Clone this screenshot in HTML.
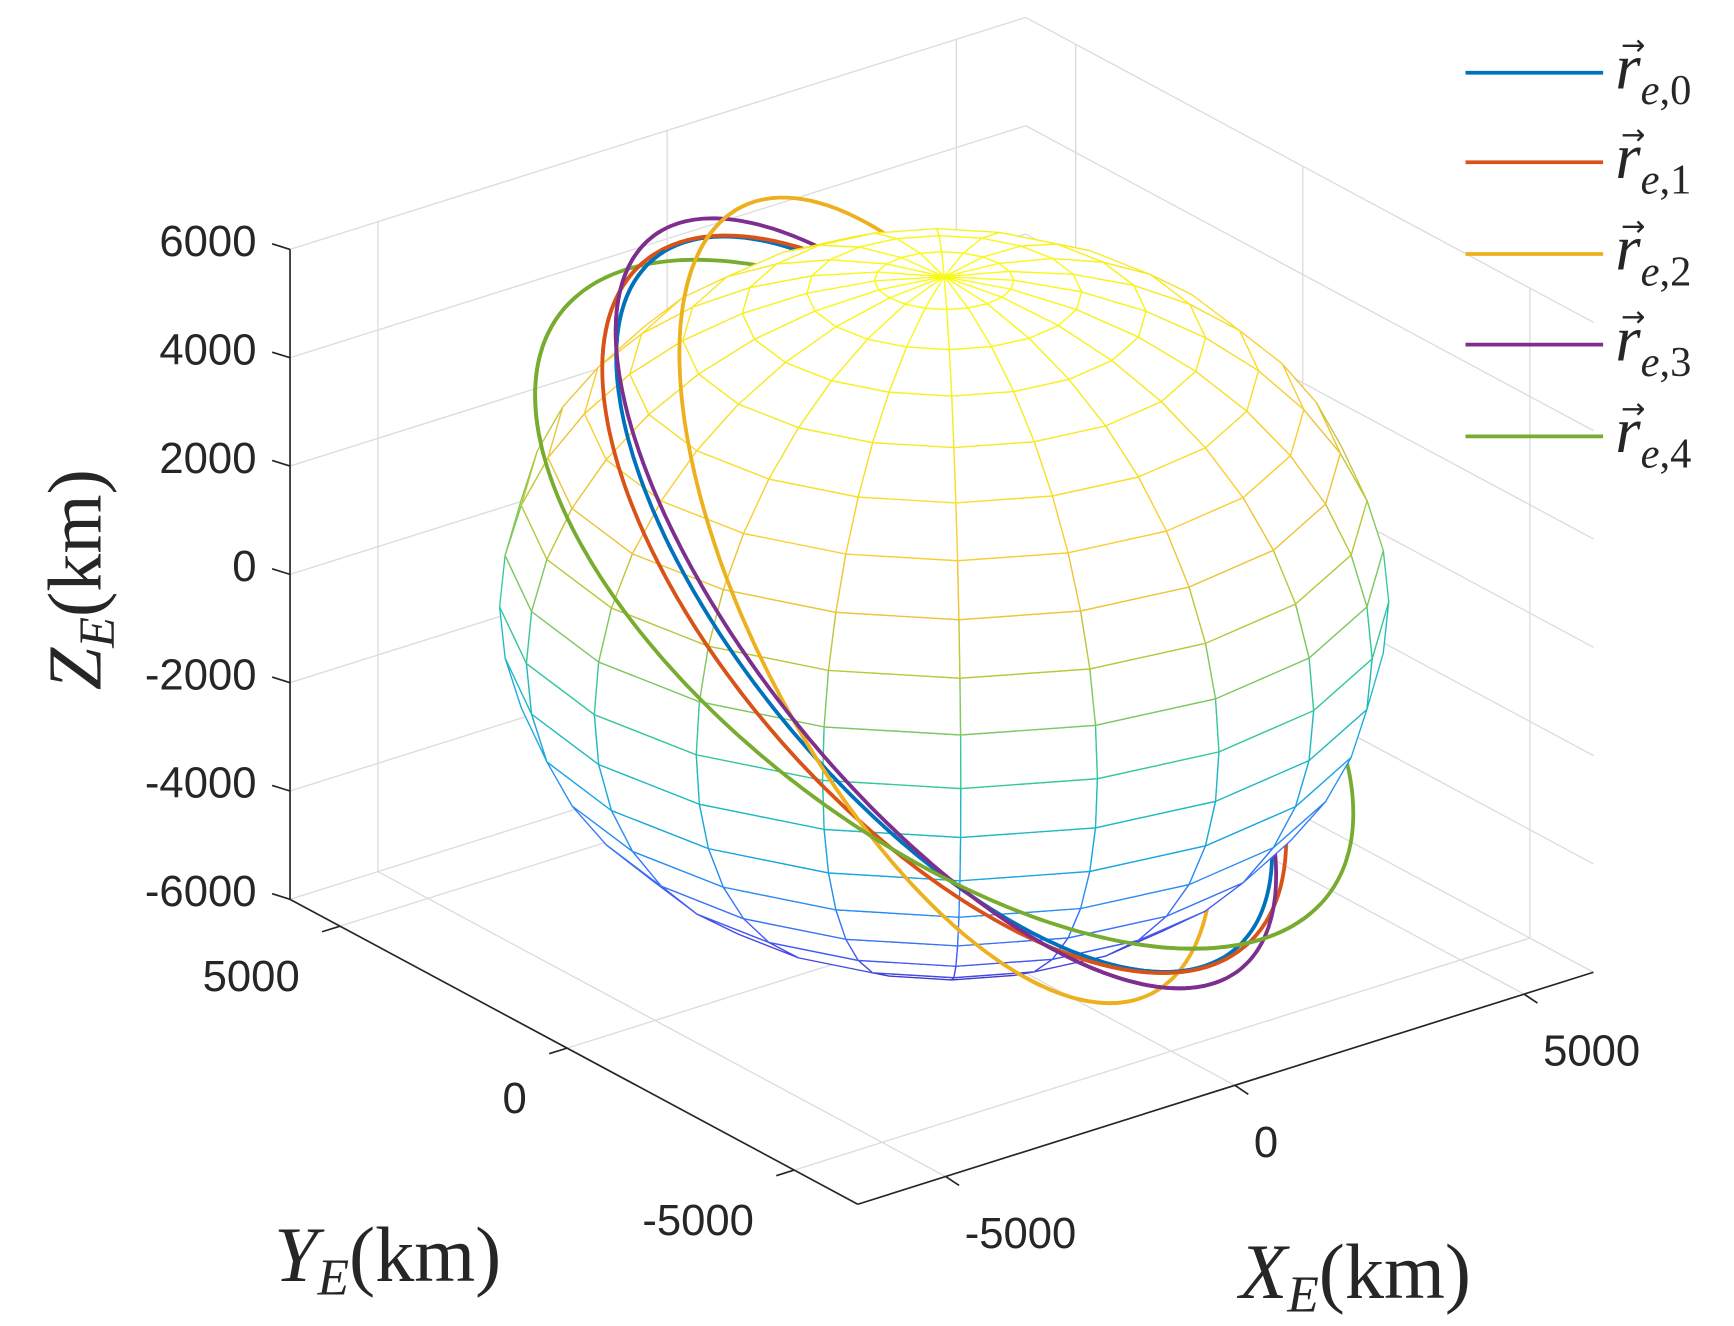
<!DOCTYPE html>
<html><head><meta charset="utf-8"><style>
html,body{margin:0;padding:0;background:#fff}
svg{display:block}
</style></head><body>
<svg id="chart" width="1734" height="1326" viewBox="0 0 1550 1185" preserveAspectRatio="none" xmlns="http://www.w3.org/2000/svg">
<rect x="0" y="0" width="1550" height="1185" fill="#fff"/>
<g id="grid"></g>
<g id="axes"></g>
<g id="orbitsBack"></g>
<g id="sphere"></g>
<g id="orbitsFront"></g>
<g id="ticklabels" font-family="Liberation Sans, sans-serif" font-size="39" fill="#262626"></g>
<text transform="translate(90,518) rotate(-90)" text-anchor="middle" font-family="Liberation Serif, serif" font-size="68" fill="#262626"><tspan font-style="italic">Z</tspan><tspan font-style="italic" font-size="45" dy="12">E</tspan><tspan dy="-12">(km)</tspan></text>
<text x="245" y="1145" font-family="Liberation Serif, serif" font-size="70" fill="#262626"><tspan font-style="italic">Y</tspan><tspan font-style="italic" font-size="46" dy="12">E</tspan><tspan dy="-12">(km)</tspan></text>
<text x="1108" y="1160" font-family="Liberation Serif, serif" font-size="70" fill="#262626"><tspan font-style="italic">X</tspan><tspan font-style="italic" font-size="46" dy="12">E</tspan><tspan dy="-12">(km)</tspan></text>
<g id="legend"></g>
</svg>
<script>
// ---- data ----
const zTicks = [-6000, -4000, -2000, 0, 2000, 4000, 6000];
const xTicks = [-5000, 0, 5000];
const yTicks = [-5000, 0, 5000];
const xLim = [-6520, 6200];
const yLim = [-6400, 6100];
const zLim = [-6000, 6000];
const earthRadius = 6050;
const seriesNames = ['0', '1', '2', '3', '4'];
const seriesColors = ['#0072BD', '#D95319', '#EDB120', '#7E2F8E', '#77AC30'];
// orbit parameters (semi-major axis km, eccentricity, plane screen angle deg, plane tilt deg, perigee argument deg)
const orbitSemiMajor = [6800, 6840, 6900, 7100, 7000];
const orbitEcc = [0.0, 0.0, 0.02, 0.01, 0.0];
const orbitPlaneAngle = [232, 231, 244, 233, 220];
const orbitTilt = [-25, -27, -23, -23, -30];
const orbitPerigee = [0, 0, 110, 90, 0];

const NS = 'http://www.w3.org/2000/svg';
const C = [844, 540];
function proj(X, Y, Z) {
  return [C[0] + (51.7 * X - 40.6 * Y) / 1000, C[1] - (16.3 * X + 21.8 * Y + 48.4 * Z) / 1000];
}
const r1 = [51.7, -40.6, 0], r2 = [16.3, 21.8, 48.4];
let V = [r1[1]*r2[2]-r1[2]*r2[1], r1[2]*r2[0]-r1[0]*r2[2], r1[0]*r2[1]-r1[1]*r2[0]];
{ const l = Math.hypot(...V); V = V.map(v => v / l); }
const dot = (a, b) => a[0]*b[0] + a[1]*b[1] + a[2]*b[2];
const cross = (a, b) => [a[1]*b[2]-a[2]*b[1], a[2]*b[0]-a[0]*b[2], a[0]*b[1]-a[1]*b[0]];
const norm = a => { const l = Math.hypot(...a); return a.map(v => v / l); };

function line(g, p, q, stroke, w, name) {
  const l = document.createElementNS(NS, 'line');
  l.setAttribute('x1', p[0]); l.setAttribute('y1', p[1]);
  l.setAttribute('x2', q[0]); l.setAttribute('y2', q[1]);
  l.setAttribute('stroke', stroke); l.setAttribute('stroke-width', w);
  
  
  g.appendChild(l);
}
// ---- grid ----
const grid = document.getElementById('grid');
const gc = '#dcdcdc';
zTicks.forEach(z => {
  line(grid, proj(xLim[0], yLim[1], z), proj(xLim[1], yLim[1], z), gc, 1.2, 'z-gridline');
  line(grid, proj(xLim[1], yLim[1], z), proj(xLim[1], yLim[0], z), gc, 1.2, 'z-gridline');
});
xTicks.forEach(x => {
  line(grid, proj(x, yLim[1], zLim[0]), proj(x, yLim[1], zLim[1]), gc, 1.2, 'x-gridline');
  line(grid, proj(x, yLim[0], zLim[0]), proj(x, yLim[1], zLim[0]), gc, 1.2, 'x-gridline');
});
yTicks.forEach(y => {
  line(grid, proj(xLim[1], y, zLim[0]), proj(xLim[1], y, zLim[1]), gc, 1.2, 'y-gridline');
  line(grid, proj(xLim[0], y, zLim[0]), proj(xLim[1], y, zLim[0]), gc, 1.2, 'y-gridline');
});
// ---- axes ----
const axes = document.getElementById('axes');
const ac = '#262626';
line(axes, proj(xLim[0], yLim[1], zLim[0]), proj(xLim[0], yLim[1], zLim[1]), ac, 1.5, 'z-axis-line');
line(axes, proj(xLim[0], yLim[0], zLim[0]), proj(xLim[0], yLim[1], zLim[0]), ac, 1.5, 'y-axis-line');
line(axes, proj(xLim[0], yLim[0], zLim[0]), proj(xLim[1], yLim[0], zLim[0]), ac, 1.5, 'x-axis-line');
const tl = document.getElementById('ticklabels');
function label(txt, x, y, anchor, name) {
  const t = document.createElementNS(NS, 'text');
  t.setAttribute('x', x); t.setAttribute('y', y);
  t.setAttribute('text-anchor', anchor);
  t.textContent = txt;
  
  
  tl.appendChild(t);
}
zTicks.forEach(z => {
  const p = proj(xLim[0], yLim[1], z);
  line(axes, p, [p[0] - 16, p[1] - 5], ac, 1.5, 'z-tick');
  label(String(z), p[0] - 30, p[1] + 6, 'end', 'z-tick-label');
});
yTicks.forEach(y => {
  const p = proj(xLim[0], y, zLim[0]);
  line(axes, p, [p[0] - 16, p[1] + 5], ac, 1.5, 'y-tick');
  label(String(y), p[0] - 36, p[1] + 58, 'end', 'y-tick-label');
});
xTicks.forEach(x => {
  const p = proj(x, yLim[0], zLim[0]);
  line(axes, p, [p[0] + 12, p[1] + 8], ac, 1.5, 'x-tick');
  label(String(x), p[0] + 17, p[1] + 64, 'start', 'x-tick-label');
});
// ---- parula ----
const parula = [[0.2422,0.1504,0.6603],[0.2810,0.3228,0.9579],[0.1786,0.5289,0.9682],[0.0689,0.6948,0.8394],[0.2161,0.7843,0.5923],[0.6720,0.7793,0.2227],[0.9970,0.7659,0.2199],[0.9619,0.8964,0.1471],[0.9769,0.9839,0.0805]];
function cmap(t) {
  t = Math.max(0, Math.min(1, t)) * 8;
  const i = Math.min(7, Math.floor(t)), f = t - i;
  const c = parula[i].map((v, k) => v + (parula[i+1][k] - v) * f);
  return 'rgb(' + c.map(v => Math.round(v * 255)).join(',') + ')';
}
// ---- orbits ----
function orbitPoints(k) {
  const e1 = norm(cross(V, [0, 0, 1])), e2 = cross(V, e1);
  const target = orbitPlaneAngle[k] * Math.PI / 180;
  let best = 0, bestErr = 1e9;
  for (let i = 0; i < 3600; i++) {
    const b = i / 3600 * 2 * Math.PI;
    const u = [0,1,2].map(j => Math.cos(b) * e1[j] + Math.sin(b) * e2[j]);
    const p = proj(u[0], u[1], u[2]);
    let a = Math.atan2(p[1] - C[1], p[0] - C[0]);
    let err = Math.abs(Math.atan2(Math.sin(a - target), Math.cos(a - target)));
    if (err < bestErr) { bestErr = err; best = b; }
  }
  const u = [0,1,2].map(j => Math.cos(best) * e1[j] + Math.sin(best) * e2[j]);
  const n = cross(u, V);
  const al = orbitTilt[k] * Math.PI / 180;
  const w = [0,1,2].map(j => Math.cos(al) * V[j] + Math.sin(al) * n[j]);
  const om = orbitPerigee[k] * Math.PI / 180;
  const P = [0,1,2].map(j => Math.cos(om) * u[j] + Math.sin(om) * w[j]);
  const Q = [0,1,2].map(j => -Math.sin(om) * u[j] + Math.cos(om) * w[j]);
  const a = orbitSemiMajor[k], e = orbitEcc[k], bb = a * Math.sqrt(1 - e * e);
  const pts = [];
  for (let i = 0; i <= 360; i++) {
    const E = i * Math.PI / 180;
    const x = a * (Math.cos(E) - e), y = bb * Math.sin(E);
    pts.push([0,1,2].map(j => x * P[j] + y * Q[j]));
  }
  return pts;
}
const back = document.getElementById('orbitsBack');
const front = document.getElementById('orbitsFront');
function poly(g, pts, color, name) {
  const pl = document.createElementNS(NS, 'polyline');
  pl.setAttribute('points', pts.map(p => { const s = proj(p[0], p[1], p[2]); return s[0].toFixed(1) + ',' + s[1].toFixed(1); }).join(' '));
  pl.setAttribute('fill', 'none'); pl.setAttribute('stroke', color);
  pl.setAttribute('stroke-width', 3.4); pl.setAttribute('stroke-linejoin', 'round');
  
  
  g.appendChild(pl);
}
seriesNames.forEach((nm, k) => {
  const pts = orbitPoints(k);
  poly(back, pts, seriesColors[k], 'orbit-' + k + '-back');
  let run = [];
  pts.forEach(p => {
    if (dot(p, V) > 0) run.push(p);
    else { if (run.length > 1) poly(front, run, seriesColors[k], 'orbit-' + k + '-front'); run = []; }
  });
  if (run.length > 1) poly(front, run, seriesColors[k], 'orbit-' + k + '-front');
});
// ---- sphere mesh ----
const sph = document.getElementById('sphere');
const N = 20, R = earthRadius;
function sp(i, j) {
  const th = -Math.PI + 2 * Math.PI * j / N, ph = -Math.PI / 2 + Math.PI * i / N;
  return [R * Math.cos(ph) * Math.cos(th), R * Math.cos(ph) * Math.sin(th), R * Math.sin(ph)];
}
for (let i = 0; i < N; i++) for (let j = 0; j < N; j++) {
  const q = [sp(i, j), sp(i, j + 1), sp(i + 1, j + 1), sp(i + 1, j)];
  const c = [0,1,2].map(k => (q[0][k] + q[1][k] + q[2][k] + q[3][k]) / 4);
  if (dot(c, V) <= 0) continue;
  const pg = document.createElementNS(NS, 'polygon');
  pg.setAttribute('points', q.map(p => proj(p[0], p[1], p[2]).map(v => v.toFixed(1)).join(',')).join(' '));
  pg.setAttribute('fill', '#fff');
  pg.setAttribute('stroke', cmap((q[0][2] + R) / (2 * R)));
  pg.setAttribute('stroke-width', 1.2);
  pg.setAttribute('stroke-linejoin', 'round');
  
  
  sph.appendChild(pg);
}
// ---- legend ----
const leg = document.getElementById('legend');
const legY = [65, 145, 227, 308, 390];
seriesNames.forEach((nm, k) => {
  const g = document.createElementNS(NS, 'g');
  
  
  line(g, [1310, legY[k]], [1433, legY[k]], seriesColors[k], 3.4, 'legend-line');
  const t = document.createElementNS(NS, 'text');
  t.setAttribute('x', 1444); t.setAttribute('y', legY[k] + 14);
  t.setAttribute('font-family', 'Liberation Serif, serif');
  t.setAttribute('font-size', 58); t.setAttribute('fill', '#262626');
  t.innerHTML = '<tspan font-style="italic">r</tspan><tspan font-style="italic" font-size="38" dy="14">e</tspan><tspan font-size="38">,' + nm + '</tspan>';
  
  
  g.appendChild(t);
  const ar = document.createElementNS(NS, 'text');
  ar.setAttribute('x', 1449); ar.setAttribute('y', legY[k] - 16);
  ar.setAttribute('font-family', 'DejaVu Sans, sans-serif');
  ar.setAttribute('font-size', 26); ar.setAttribute('fill', '#262626');
  ar.textContent = '→';
  
  
  g.appendChild(ar);
  leg.appendChild(g);
});
</script>
</body></html>
